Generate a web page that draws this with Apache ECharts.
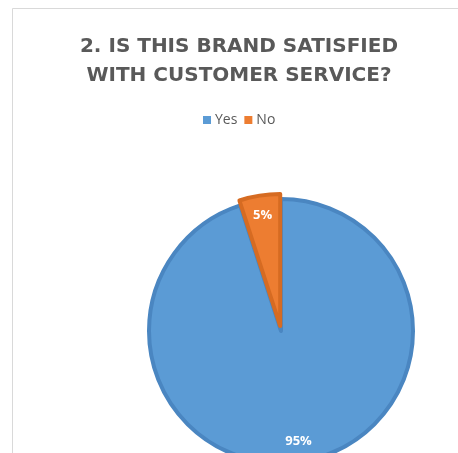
<!DOCTYPE html>
<html>
<head>
<meta charset="utf-8">
<style>
  html, body { margin: 0; padding: 0; background: #ffffff; }
  #chart { width: 458px; height: 453px; }
</style>
<script src="https://cdn.jsdelivr.net/npm/echarts@6/dist/echarts.min.js"></script>
</head>
<body>
<div id="chart"></div>
<script>
// Survey answers and their shares (percent)
const categories = ['Yes', 'No'];
const shares = [95, 5];
const sliceColors = ['#5b9bd5', '#ed7d31'];
const sliceBorders = ['#4a86c1', '#d66b22'];

const titleLines = ['2. IS THIS BRAND SATISFIED', 'WITH CUSTOMER SERVICE?'];

const pieCenter = [281, 331];
const pieRadius = 132;
const explodeOffset = 5;

const chart = echarts.init(document.getElementById('chart'), null, { renderer: 'canvas' });

const sliceData = categories.map((name, i) => ({
  name: name,
  value: shares[i],
  selected: name === 'No',
  itemStyle: { color: sliceColors[i], borderColor: sliceBorders[i], borderWidth: 4 }
}));

// Label ring: same values, transparent, used only to place the percentage labels
const labelData = categories.map((name, i) => ({
  name: name,
  value: shares[i],
  selected: name === 'No',
  itemStyle: { color: 'rgba(0,0,0,0)', borderWidth: 0 }
}));

chart.setOption({
  animation: false,
  backgroundColor: '#ffffff',
  graphic: [{
    type: 'polyline',
    shape: { points: [[12.5, 460], [12.5, 8.5], [470, 8.5]] },
    style: { stroke: '#d9d9d9', lineWidth: 1, fill: null },
    silent: true
  }],
  title: {
    text: titleLines.join('\n'),
    left: 234,
    textAlign: 'center',
    top: 27,
    textStyle: {
      fontFamily: 'DejaVu Sans',
      fontWeight: 'bold',
      fontSize: 20,
      lineHeight: 29,
      color: '#595959'
    }
  },
  legend: {
    data: categories,
    left: 198,
    top: 108,
    icon: 'rect',
    itemWidth: 8,
    itemHeight: 8,
    itemGap: 7,
    selectedMode: false,
    itemStyle: { borderWidth: 0 },
    textStyle: { fontFamily: 'Open Sans', fontSize: 14, color: '#595959', padding: [0, 0, 0, -1] }
  },
  series: [
    {
      type: 'pie',
      name: 'answers',
      center: pieCenter,
      radius: pieRadius,
      startAngle: 90,
      clockwise: true,
      selectedMode: 'single',
      selectedOffset: explodeOffset,
      silent: true,
      label: { show: false },
      labelLine: { show: false },
      emphasis: { disabled: true },
      data: sliceData
    },
    {
      type: 'pie',
      name: 'labels',
      center: pieCenter,
      radius: [86, pieRadius],
      startAngle: 90,
      clockwise: true,
      selectedMode: 'single',
      selectedOffset: explodeOffset,
      silent: true,
      legendHoverLink: false,
      label: {
        show: true,
        position: 'inside',
        formatter: p => p.value + '%',
        fontFamily: 'Open Sans',
        fontWeight: 'bold',
        fontSize: 13,
        color: '#ffffff'
      },
      labelLine: { show: false },
      emphasis: { disabled: true },
      data: labelData
    }
  ]
});
</script>
</body>
</html>
